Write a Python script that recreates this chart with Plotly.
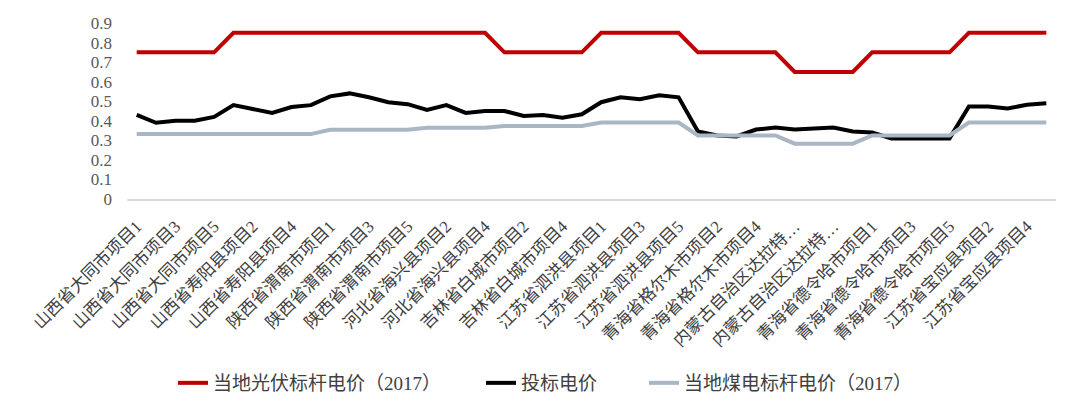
import plotly.graph_objects as go

# 项目名称（横轴）
projects = (
    [f"山西省大同市项目{i}" for i in range(1, 6)]
    + [f"山西省寿阳县项目{i}" for i in range(1, 6)]
    + [f"陕西省渭南市项目{i}" for i in range(1, 6)]
    + [f"河北省海兴县项目{i}" for i in range(1, 5)]
    + [f"吉林省白城市项目{i}" for i in range(1, 6)]
    + [f"江苏省泗洪县项目{i}" for i in range(1, 6)]
    + [f"青海省格尔木市项目{i}" for i in range(1, 6)]
    + [f"内蒙古自治区达拉特旗项目{i}" for i in range(1, 5)]
    + [f"青海省德令哈市项目{i}" for i in range(1, 6)]
    + [f"江苏省宝应县项目{i}" for i in range(1, 6)]
)

# 当地光伏标杆电价（2017）
pv_benchmark = ([0.75] * 5 + [0.85] * 14 + [0.75] * 5 + [0.85] * 5
                + [0.75] * 5 + [0.65] * 4 + [0.75] * 5 + [0.85] * 5)

# 投标电价
bid_price = [0.43, 0.39, 0.40, 0.40, 0.42, 0.48, 0.46, 0.44, 0.47, 0.48,
             0.525, 0.54, 0.52, 0.495, 0.485, 0.455, 0.48, 0.44, 0.45, 0.45,
             0.425, 0.43, 0.415, 0.433, 0.495, 0.52, 0.51, 0.53, 0.52, 0.345,
             0.325, 0.32, 0.355, 0.365, 0.355, 0.36, 0.365, 0.345, 0.34, 0.31,
             0.31, 0.31, 0.31, 0.473, 0.473, 0.463, 0.482, 0.49]

# 当地煤电标杆电价（2017）
coal_benchmark = ([0.332] * 10 + [0.3545] * 5 + [0.3644] * 4 + [0.3731] * 5
                  + [0.391] * 5 + [0.3247] * 5 + [0.2829] * 4 + [0.3247] * 5
                  + [0.391] * 5)

y_ticks = [0, 0.1, 0.2, 0.3, 0.4, 0.5, 0.6, 0.7, 0.8, 0.9]
y_tick_text = ["0", "0.1", "0.2", "0.3", "0.4", "0.5", "0.6", "0.7", "0.8", "0.9"]


def short(name):
    # Excel 会把过长的标签截断
    return name if len(name) <= 10 else name[:9] + "…"


shown = projects[::2]

FONT = "Liberation Serif, Noto Sans CJK SC, serif"
# 页面 body 默认有 8px 外边距，图本身缩小 16px 刚好填满窗口
W, H = 1072, 403

fig = go.Figure()
fig.add_trace(go.Scatter(x=projects, y=pv_benchmark, mode="lines",
                         name="当地光伏标杆电价（2017）", legend="legend",
                         line=dict(color="#C00000", width=4)))
fig.add_trace(go.Scatter(x=projects, y=bid_price, mode="lines",
                         name="投标电价", legend="legend2",
                         line=dict(color="#000000", width=4)))
fig.add_trace(go.Scatter(x=projects, y=coal_benchmark, mode="lines",
                         name="当地煤电标杆电价（2017）", legend="legend3",
                         line=dict(color="#A9B7C4", width=4)))

# 三个图例分开摆放，间距和原图一致
leg = dict(orientation="h", xref="container", yref="container",
           y=1 - 375 / H, xanchor="left", yanchor="middle",
           font=dict(size=19, color="#404040"), bgcolor="rgba(0,0,0,0)")

fig.update_layout(
    width=W, height=H,
    margin=dict(l=119, r=24, t=15, b=212, autoexpand=False),
    plot_bgcolor="white", paper_bgcolor="white",
    font=dict(family=FONT, size=16, color="#595959"),
    showlegend=True,
    legend=dict(leg, x=165 / W),
    legend2=dict(leg, x=473 / W),
    legend3=dict(leg, x=636 / W),
)
fig.update_xaxes(
    type="category", range=[-0.5, len(projects) - 0.5], automargin=False,
    tickmode="array", tickvals=shown, ticktext=[short(s) for s in shown],
    tickangle=-45, tickfont=dict(size=17, color="#404040"),
    ticklabelstandoff=9,
    showline=True, linecolor="#D9D9D9", linewidth=1.5,
    showgrid=False, ticks="", zeroline=False,
)
fig.update_yaxes(
    range=[0, 0.9], tickmode="array", tickvals=y_ticks, ticktext=y_tick_text,
    showgrid=False, zeroline=False, showline=False, automargin=False,
    tickfont=dict(size=17, color="#595959"), ticklabelstandoff=14,
)

fig.write_html("out.html")
